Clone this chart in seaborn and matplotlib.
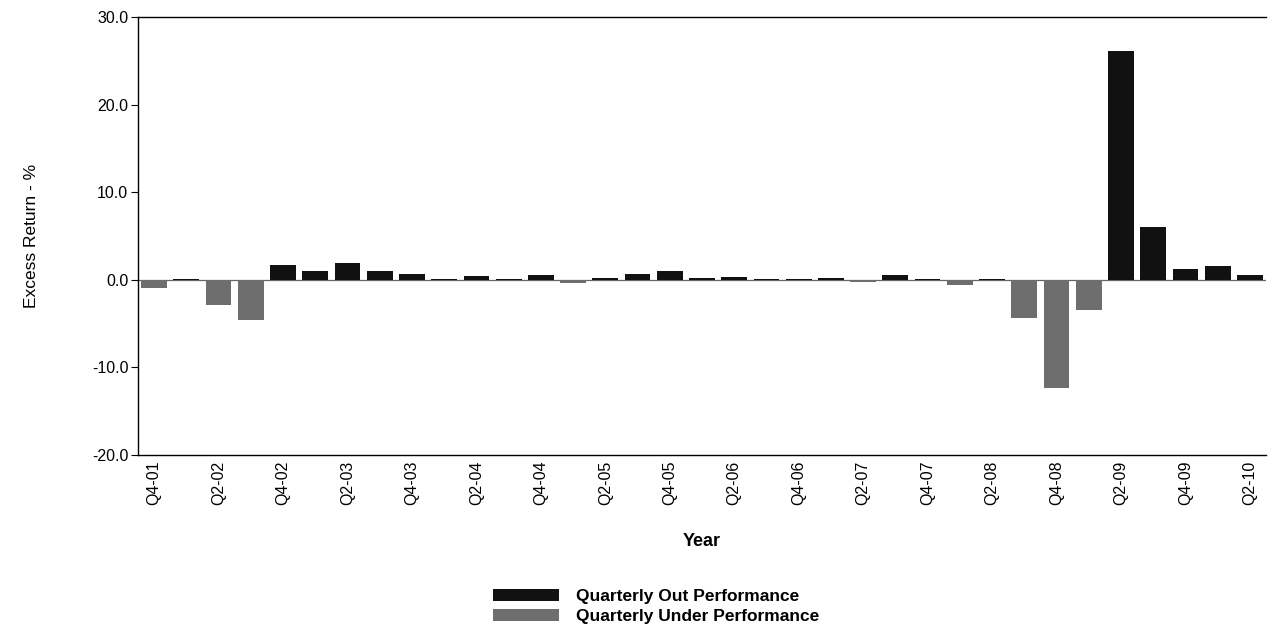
import matplotlib
matplotlib.use("Agg")
import matplotlib.pyplot as plt
import seaborn as sns
import pandas as pd
import numpy as np

quarters = ["Q4-01", "Q1-02", "Q2-02", "Q3-02", "Q4-02", "Q1-03", "Q2-03", "Q3-03", "Q4-03",
            "Q1-04", "Q2-04", "Q3-04", "Q4-04", "Q1-05", "Q2-05", "Q3-05", "Q4-05",
            "Q1-06", "Q2-06", "Q3-06", "Q4-06", "Q1-07", "Q2-07", "Q3-07", "Q4-07",
            "Q1-08", "Q2-08", "Q3-08", "Q4-08", "Q1-09", "Q2-09", "Q3-09", "Q4-09",
            "Q1-10", "Q2-10"]
excess_return = [-0.9, 0.05, -2.9, -4.6, 1.7, 0.95, 1.9, 1.05, 0.7,
                 0.05, 0.4, 0.05, 0.5, -0.4, 0.15, 0.7, 1.0,
                 0.25, 0.35, 0.1, 0.05, 0.2, -0.2, 0.6, 0.1,
                 -0.6, 0.05, -4.4, -12.4, -3.4, 26.1, 6.0, 1.2,
                 1.6, 0.5]
series_names = ["Quarterly Out Performance", "Quarterly Under Performance"]
series_colors = ["#111111", "#6e6e6e"]

df = pd.DataFrame({
    "Quarter": quarters,
    "Excess": excess_return,
    "Series": [series_names[0] if v >= 0 else series_names[1] for v in excess_return],
})

sns.set_theme(style="white")
plt.rcParams['font.family'] = ['Liberation Sans', 'DejaVu Sans']
plt.rcParams['axes.unicode_minus'] = False
plt.rcParams['text.color'] = 'black'
plt.rcParams['axes.labelcolor'] = 'black'
plt.rcParams['xtick.color'] = 'black'
plt.rcParams['ytick.color'] = 'black'

fig = plt.figure(figsize=(12.69, 6.34), dpi=100)
ax = fig.add_axes([138/1269, 1-455/634, (1266-138)/1269, (455-17)/634])

sns.barplot(data=df, x="Quarter", y="Excess", hue="Series", hue_order=series_names,
            palette=dict(zip(series_names, series_colors)), dodge=False, width=0.8,
            order=quarters, ax=ax, legend=True, saturation=1, linewidth=0)

ax.axhline(0, color="#666666", lw=0.9, zorder=0)
ax.set_xlim(-0.5, len(quarters) - 0.5)
ax.set_ylim(-20, 30)
yt = [-20, -10, 0, 10, 20, 30]
ax.set_yticks(yt)
ax.set_yticklabels([f"{t:.1f}" for t in yt], fontsize=11.5)
ax.set_xticks(range(len(quarters)))
ax.set_xticklabels([q if i % 2 == 0 else "" for i, q in enumerate(quarters)], rotation=90, fontsize=11.5)
ax.tick_params(axis="y", direction="out", length=5, width=0.8, color="black", left=True, pad=2)
ax.tick_params(axis="x", length=0, pad=4)

for s in ["left", "bottom", "top"]:
    ax.spines[s].set_color("black")
    ax.spines[s].set_linewidth(1.0)
ax.spines["right"].set_visible(False)

ax.set_xlabel("Year", fontsize=13, fontweight="bold", labelpad=20)
ax.set_ylabel("Excess Return - %", fontsize=12.5, labelpad=38)

handles, labels = ax.get_legend_handles_labels()
ax.get_legend().remove()
leg = fig.legend(handles, labels, loc="center", bbox_to_anchor=(0.517, 0.043), frameon=False,
                 prop={"size": 12.5, "weight": "bold"}, handlelength=3.8, handleheight=0.7,
                 labelspacing=0.3, handletextpad=1.0)

fig.savefig("out.png", dpi=100)
